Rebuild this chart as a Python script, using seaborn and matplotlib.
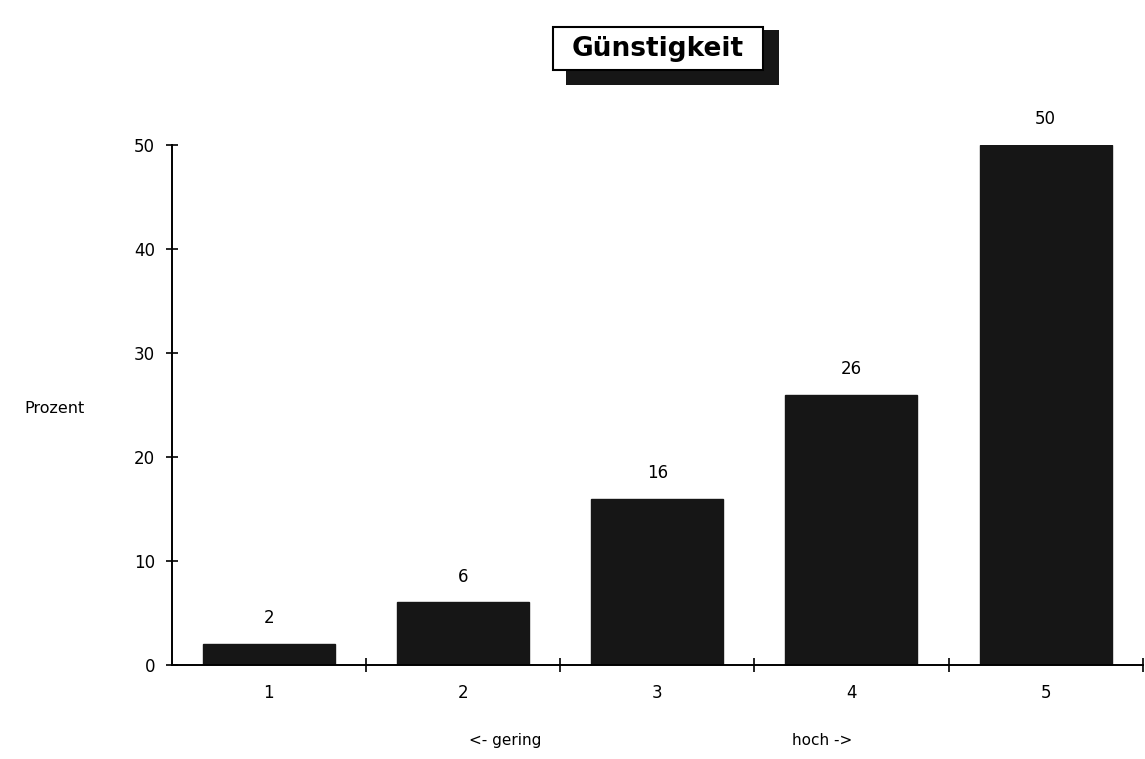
import matplotlib
matplotlib.use("Agg")
import matplotlib.pyplot as plt
from matplotlib.patches import Rectangle
from matplotlib.ticker import FixedLocator
import seaborn as sns
import pandas as pd

categories = ["1", "2", "3", "4", "5"]
percent = [2, 6, 16, 26, 50]
yticks = [0, 10, 20, 30, 40, 50]
title = "Günstigkeit"
ylabel = "Prozent"
low_note = "<- gering"
high_note = "hoch ->"

sns.set_theme(style="white")
plt.rcParams["font.family"] = ["DejaVu Sans"]

df = pd.DataFrame({"Stufe": categories, "Prozent": percent})

fig = plt.figure(figsize=(11.45, 7.59), dpi=100)
ax = fig.add_axes([0.150, 0.124, 0.848, 0.685])

sns.barplot(data=df, x="Stufe", y="Prozent", color="#161616", width=0.68,
            saturation=1, edgecolor="#161616", ax=ax)

ax.set_xlim(-0.5, 4.5)
ax.set_ylim(0, 50)
ax.set_yticks(yticks)
ax.set_yticklabels([str(t) for t in yticks], fontsize=12, color="black")
ax.set_xticks(range(len(categories)))
ax.set_xticklabels(categories, fontsize=12, color="black")
ax.tick_params(axis="x", which="major", length=0, pad=14, bottom=True)
ax.xaxis.set_minor_locator(FixedLocator([0.5, 1.5, 2.5, 3.5, 4.5]))
ax.tick_params(axis="x", which="minor", direction="inout", length=10, width=1.2,
               color="black", bottom=True)
ax.tick_params(axis="y", which="major", direction="inout", length=8, width=1.2,
               color="black", left=True, pad=8)

for side in ["top", "right"]:
    ax.spines[side].set_visible(False)
for side in ["left", "bottom"]:
    ax.spines[side].set_color("black")
    ax.spines[side].set_linewidth(1.4)

ax.set_xlabel("")
ax.set_ylabel("")

for i, v in enumerate(percent):
    ax.annotate(str(v), (i, v), xytext=(0, 12), textcoords="offset points",
                ha="center", va="bottom", fontsize=12, color="black")

fig.text(0.048, 0.462, ylabel, ha="center", va="center", fontsize=11.5, color="black")
fig.text(0.441, 0.015, low_note, ha="center", va="bottom", fontsize=11, color="black")
fig.text(0.718, 0.015, high_note, ha="center", va="bottom", fontsize=11, color="black")

# title box with a black drop shadow
fig.patches.append(Rectangle((0.494, 0.888), 0.186, 0.072, transform=fig.transFigure,
                             facecolor="#161616", edgecolor="none", zorder=1))
fig.patches.append(Rectangle((0.483, 0.908), 0.183, 0.056, transform=fig.transFigure,
                             facecolor="white", edgecolor="black", linewidth=1.5, zorder=2))
fig.text(0.5745, 0.936, title, ha="center", va="center", fontsize=19,
         fontweight="bold", color="black", zorder=3)

fig.savefig("out.png", dpi=100, facecolor="white")
